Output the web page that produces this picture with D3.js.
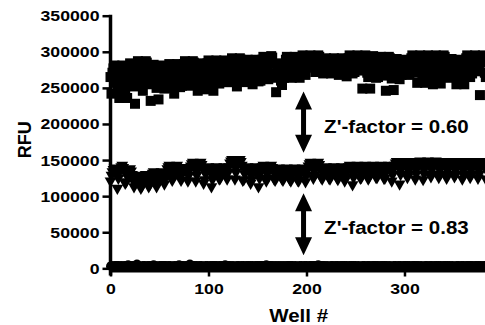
<!DOCTYPE html>
<html>
<head>
<meta charset="utf-8">
<script src="https://cdn.jsdelivr.net/npm/d3@7"></script>
<style>
  body { margin: 0; background: #fff; }
  text { font-family: "Liberation Sans", Arial, sans-serif; font-weight: bold; fill: #000; }
</style>
</head>
<body>
<svg id="chart" width="485" height="325"></svg>
<script>
// RFU per well, in thousands (wells 0..383)
const maxSignal = [
  265,242,271,277,281,279,257,249, 265,236,271,277,281,279,257,249,
  268,236,274,280,284,282,260,252, 271,228,277,283,287,285,263,255,
  271,246,277,283,287,285,263,255, 266,232,272,278,282,280,258,250,
  265,234,271,277,281,279,257,249, 267,250,273,279,283,281,259,251,
  267,242,273,279,283,281,259,251, 271,253,277,283,287,285,263,255,
  271,253,277,283,287,285,263,255, 268,246,274,280,284,282,260,252,
  272,248,278,284,288,286,264,256, 272,246,278,284,288,286,264,256,
  272,260,278,284,288,286,264,258, 275,258,281,287,291,289,267,261,
  275,252,281,287,291,289,267,259, 273,258,279,285,289,287,265,261,
  273,255,279,285,289,287,265,259, 277,260,283,289,293,291,269,263,
  278,262,284,290,294,292,270,264, 268,244,274,280,284,282,260,254,
  277,264,283,289,293,291,271,266, 277,264,283,289,293,291,271,266,
  279,264,285,291,295,293,273,268, 283,278,287,291,295,293,281,279,
  281,272,285,291,295,293,277,274, 279,270,283,287,291,289,275,272,
  279,270,283,287,291,289,275,272, 277,268,283,287,291,289,273,270,
  279,266,285,291,295,293,273,270, 281,272,285,291,295,293,277,274,
  279,249,285,291,295,293,271,265, 278,249,284,290,294,292,270,264,
  277,265,283,289,293,291,271,267, 277,246,283,289,293,291,269,263,
  274,247,280,286,290,288,266,262, 277,268,281,285,289,287,273,270,
  281,268,285,291,295,293,275,271, 279,257,285,291,295,293,271,265,
  279,257,285,291,295,293,271,265, 279,255,285,291,295,293,271,265,
  279,256,285,291,295,293,271,265, 276,264,280,286,290,288,270,267,
  275,255,279,285,289,287,269,264, 279,255,285,291,295,293,271,265,
  281,270,285,291,295,293,277,273, 279,240,285,291,295,293,271,265
];
const midSignal = [
  121,129,134,137,139,136,131,111, 125,133,138,141,143,140,135,118,
  120,128,133,136,138,135,130,122, 113,119,124,127,129,126,121,111,
  114,120,125,128,130,127,122,113, 116,124,129,132,134,131,126,113,
  118,124,129,132,134,131,126,117, 125,133,138,141,143,140,135,122,
  126,133,138,141,143,140,135,127, 122,130,135,138,140,137,132,121,
  129,137,142,145,147,144,139,121, 129,137,142,145,147,144,139,118,
  123,131,136,139,141,138,133,113, 123,131,136,139,141,138,133,124,
  125,131,136,139,141,138,133,124, 133,141,146,149,151,148,143,124,
  133,141,146,149,151,148,143,122, 123,131,136,139,141,138,133,118,
  123,131,136,139,141,138,133,113, 125,133,138,141,143,140,135,121,
  125,133,138,141,143,140,135,124, 122,129,134,137,139,136,131,124,
  122,129,134,137,139,136,131,123, 121,129,134,137,139,136,131,122,
  121,129,134,137,139,136,131,120, 129,137,142,145,147,144,139,125,
  129,137,142,145,147,144,139,126, 124,131,136,139,141,138,133,125,
  124,131,136,139,141,138,133,126, 123,131,136,139,141,138,133,121,
  125,133,138,141,143,140,135,116, 126,133,138,141,143,140,135,125,
  126,133,138,141,143,140,135,124, 127,133,138,141,143,140,135,126,
  126,133,138,141,143,140,135,125, 125,133,138,141,143,140,135,121,
  130,138,143,146,148,145,140,117, 130,138,143,146,148,145,140,126,
  130,138,143,146,148,145,140,124, 131,139,144,147,149,146,141,123,
  131,139,144,147,149,146,141,127, 131,139,144,147,149,146,141,126,
  130,138,143,146,148,145,140,125, 130,138,143,146,148,145,140,127,
  130,138,143,146,148,145,140,124, 130,138,143,146,148,145,140,126,
  130,138,143,146,148,145,140,125, 130,138,143,146,148,145,140,124
];
const minSignal = [
  3,4,3,2,4,3,4,3, 4,3,3,4,2,3,4,3, 3,4,5,3,4,3,3,4, 4,3,4,6,3,4,3,3,
  3,4,3,4,3,2,4,3, 4,3,4,3,5,3,4,3, 3,3,4,3,4,3,4,4, 4,3,3,4,3,4,3,3,
  3,4,3,3,4,3,5,3, 4,3,4,3,3,4,3,4, 3,6,4,3,4,3,4,3, 4,3,3,4,3,4,3,3,
  3,4,3,4,2,3,4,3, 4,3,4,3,4,3,3,4, 3,4,3,3,4,5,3,4, 4,3,4,3,3,4,3,3,
  3,4,3,4,3,3,4,3, 4,3,3,4,3,4,3,4, 3,4,3,3,4,3,4,3, 4,3,4,3,4,3,3,5,
  3,4,3,4,3,4,3,3, 4,3,3,4,3,3,4,3, 3,4,3,3,4,3,4,4, 4,3,4,3,3,4,3,3,
  3,4,3,4,3,3,4,3, 4,3,3,4,3,4,3,4, 3,4,3,3,5,3,4,3, 4,3,4,3,3,4,3,3,
  3,4,3,4,3,3,4,3, 4,3,3,4,3,4,3,4, 3,4,3,3,4,3,4,3, 4,3,4,3,3,4,3,3,
  3,4,3,4,3,3,4,3, 4,3,3,4,3,4,3,4, 3,4,3,3,4,3,4,3, 4,3,4,3,3,4,3,3,
  3,4,3,4,3,3,4,3, 4,3,3,4,3,4,3,4, 3,4,3,3,4,3,4,3, 4,3,4,3,3,4,3,3,
  3,4,3,4,3,3,4,3, 4,3,3,4,3,4,3,4, 3,4,3,3,4,3,4,3, 4,3,4,3,3,4,3,3,
  3,4,3,4,3,3,4,3, 4,3,3,4,3,4,3,4, 3,4,3,3,4,3,4,3, 4,3,4,3,3,4,3,3
];
const yTicks = [0, 50, 100, 150, 200, 250, 300, 350];
const xTicks = [0, 100, 200, 300];
// arrows between bands: well, top, bottom (thousands RFU), label
const zFactors = [
  { well: 197, top: 245, bottom: 160, labelAt: 187, label: "Z'-factor = 0.60" },
  { well: 197, top: 104, bottom: 18, labelAt: 48, label: "Z'-factor = 0.83" }
];

const svg = d3.select('#chart');
const x = d3.scaleLinear().domain([0, 384]).range([110.5, 486.8]);
const y = d3.scaleLinear().domain([-3, 350]).range([270.5, 15.7]);
const stretch = 1.14;

function widen(sel) {
  sel.each(function () {
    const w = this.getComputedTextLength();
    d3.select(this).attr('textLength', w * stretch).attr('lengthAdjust', 'spacingAndGlyphs');
  });
}

// x axis
const gx = svg.append('g')
  .attr('transform', `translate(0,${y(-3)})`)
  .call(d3.axisBottom(x).tickValues(xTicks).tickSize(6).tickPadding(6).tickSizeOuter(0));
gx.select('.domain').attr('stroke-width', 3);
gx.selectAll('.tick line').attr('stroke-width', 2.5);
gx.selectAll('.tick text').attr('font-size', 15.5).call(widen);

// y axis
const gy = svg.append('g')
  .attr('transform', `translate(${x(0)},0)`)
  .call(d3.axisLeft(y).tickValues(yTicks).tickSize(8).tickPadding(3).tickSizeOuter(0)
    .tickFormat(d => String(d * 1000)));
gy.select('.domain').attr('stroke-width', 3.5).attr('d', `M0,${y(350) - 1}V${y(-3) + 5}`);
gy.selectAll('.tick line').attr('stroke-width', 2.5);
gy.selectAll('.tick text').attr('font-size', 15.5).call(widen);

// series
const plot = svg.append('g');
plot.selectAll('circle.min').data(minSignal).join('circle')
  .attr('class', 'min')
  .attr('cx', (d, i) => x(i)).attr('cy', d => y(d)).attr('r', 4.5).attr('fill', '#000');

const tri = d3.symbol().type(d3.symbolTriangle).size(60);
plot.selectAll('path.mid').data(midSignal).join('path')
  .attr('class', 'mid')
  .attr('d', tri)
  .attr('transform', (d, i) => `translate(${x(i)},${y(d)}) rotate(180)`)
  .attr('fill', '#000');

const sq = 10;
plot.selectAll('rect.max').data(maxSignal).join('rect')
  .attr('class', 'max')
  .attr('x', (d, i) => x(i) - sq / 2).attr('y', d => y(d) - sq / 2)
  .attr('width', sq).attr('height', sq).attr('fill', '#000');

// double arrows + labels
zFactors.forEach(z => {
  const cx = x(z.well), t = y(z.top), b = y(z.bottom);
  const hw = 8.5, hh = 18, sw = 2.5;
  svg.append('path')
    .attr('d', `M${cx},${t}L${cx + hw},${t + hh}L${cx + sw},${t + hh}L${cx + sw},${b - hh}` +
      `L${cx + hw},${b - hh}L${cx},${b}L${cx - hw},${b - hh}L${cx - sw},${b - hh}` +
      `L${cx - sw},${t + hh}L${cx - hw},${t + hh}Z`)
    .attr('fill', '#000');
  svg.append('text')
    .attr('x', x(z.well + 21)).attr('y', y(z.labelAt))
    .attr('font-size', 18)
    .text(z.label)
    .call(widen);
});

// axis titles
svg.append('text')
  .attr('x', x(192)).attr('y', 322)
  .attr('text-anchor', 'middle').attr('font-size', 18)
  .text('Well #').call(widen);

svg.append('text')
  .attr('transform', `translate(31,${y(178)}) rotate(-90)`)
  .attr('text-anchor', 'middle').attr('font-size', 18)
  .text('RFU');
</script>
</body>
</html>
